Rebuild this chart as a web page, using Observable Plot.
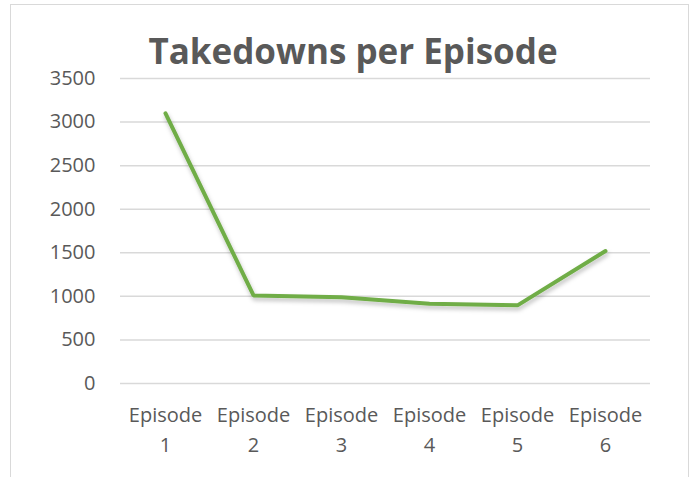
<!DOCTYPE html>
<html><head><meta charset="utf-8">
<script src="https://cdn.jsdelivr.net/npm/d3@7"></script>
<script src="https://cdn.jsdelivr.net/npm/@observablehq/plot@0.6"></script>
<style>
body{margin:0;background:#fff;width:694px;height:477px;overflow:hidden;position:relative;font-family:"Open Sans",sans-serif}
#frame{position:absolute;left:10px;top:4px;width:679px;height:520px;border:1px solid #d9d9d9;box-sizing:border-box}
#title{position:absolute;left:14px;width:678px;top:33px;text-align:center;font-size:35px;font-weight:bold;color:#595959;line-height:1;white-space:nowrap}
#chart{position:absolute;left:0;top:0}
</style></head>
<body>
<div id="frame"></div>
<div id="chart"></div>
<div id="title">Takedowns per Episode</div>
<script>
const episodes = ["Episode 1","Episode 2","Episode 3","Episode 4","Episode 5","Episode 6"];
const takedowns = [3100, 1010, 990, 915, 897, 1520];
const yTicks = [0, 500, 1000, 1500, 2000, 2500, 3000, 3500];

const data = episodes.map((e, i) => ({episode: e, value: takedowns[i]}));

const chart = Plot.plot({
  width: 694, height: 477,
  marginLeft: 120, marginRight: 44, marginTop: 78, marginBottom: 94,
  style: {background: "transparent", fontFamily: "'Open Sans', sans-serif", color: "#595959"},
  x: {type: "point", domain: episodes, padding: 0.5, label: null},
  y: {domain: [0, 3500], label: null},
  marks: [
    Plot.gridY(yTicks, {stroke: "#d9d9d9", strokeOpacity: 1, strokeWidth: 1.5}),
    Plot.axisY(yTicks, {tickSize: 0, tickPadding: 25, fontSize: 20, fill: "#595959", label: null,
      tickFormat: d => String(d)}),
    Plot.axisX({tickSize: 0, tickPadding: 17, fontSize: 20, fill: "#595959", lineHeight: 1.5,
      tickFormat: d => d.replace(" ", "\n"), label: null}),
    Plot.lineY(data, {x: "episode", y: "value", stroke: "#70ad47", strokeWidth: 4, strokeLinejoin: "miter"})
  ]
});
// soft drop shadow on the series line, like the original
const svg = d3.select(chart);
const defs = svg.insert("defs", ":first-child");
defs.append("filter").attr("id", "shadow").attr("x", "-10%").attr("y", "-10%").attr("width", "120%").attr("height", "130%")
  .append("feDropShadow").attr("dx", 1).attr("dy", 3).attr("stdDeviation", 2)
  .attr("flood-color", "#000").attr("flood-opacity", 0.25);
svg.selectAll("path").filter(function() { return d3.select(this).attr("stroke") === "#70ad47" || d3.select(this.parentNode).attr("stroke") === "#70ad47"; })
  .attr("filter", "url(#shadow)");
document.getElementById("chart").appendChild(chart);
</script>
</body></html>
